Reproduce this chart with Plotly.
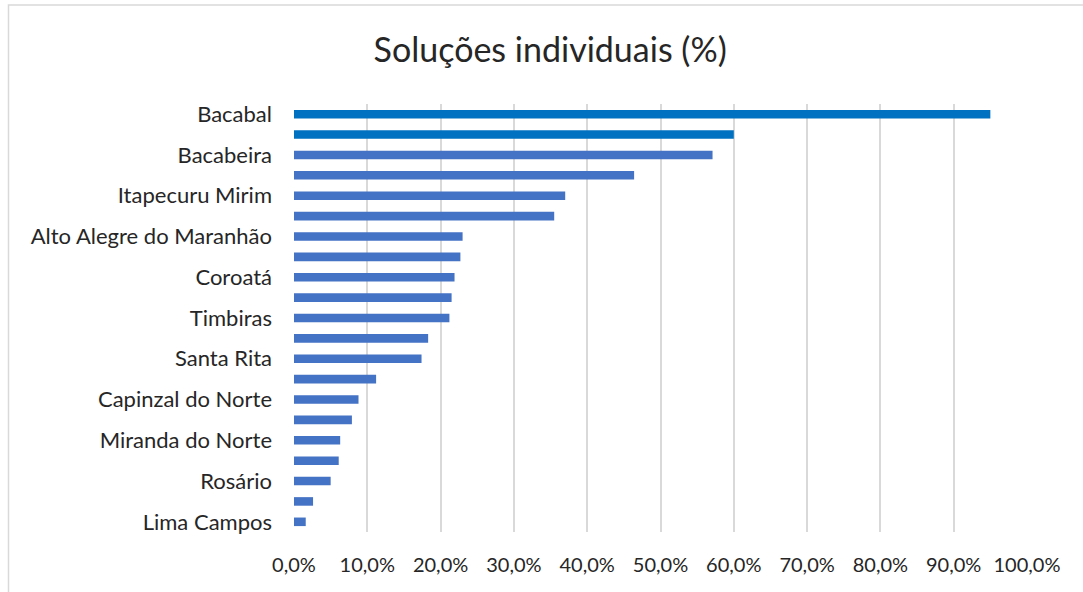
import plotly.graph_objects as go

# Visible category labels (Excel shows every other one)
labels = ["Bacabal", "Bacabeira", "Itapecuru Mirim", "Alto Alegre do Maranhão",
          "Coroatá", "Timbiras", "Santa Rita", "Capinzal do Norte",
          "Miranda do Norte", "Rosário", "Lima Campos"]
# Bar values (share), top to bottom, 21 bars
values = [0.950, 0.600, 0.571, 0.464, 0.370, 0.355, 0.230, 0.227, 0.219, 0.215,
          0.212, 0.183, 0.174, 0.112, 0.088, 0.079, 0.063, 0.061, 0.050, 0.026, 0.016]
highlight = [True, True] + [False] * 19

positions = list(range(len(values)))
label_positions = positions[::2]
colors = ["#0070C0" if h else "#4472C4" for h in highlight]

fig = go.Figure(go.Bar(
    x=values, y=positions, orientation="h",
    marker=dict(color=colors, line=dict(width=0)),
    width=0.42,
))

font_family = "Lato, 'Open Sans', sans-serif"
fig.update_layout(
    width=1083, height=592,
    margin=dict(l=294, r=56, t=104, b=60),
    paper_bgcolor="white", plot_bgcolor="white",
    showlegend=False,
    title=dict(text="Soluções individuais (%)", x=0.508, xanchor="center",
               y=1 - 50 / 592, yanchor="middle", yref="container",
               font=dict(family=font_family, size=34, color="#262626")),
    font=dict(family=font_family, color="#262626"),
    xaxis=dict(range=[0, 1.0], tickvals=[i / 10 for i in range(11)],
               tickformat=".1%",
               showgrid=True, gridcolor="#D9D9D9", gridwidth=2,
               zeroline=False, showline=False,
               tickfont=dict(size=20, color="#262626"), ticks="",
               ticklabelstandoff=19),
    yaxis=dict(range=[len(values) - 0.5, -0.5], tickvals=label_positions,
               ticktext=labels, showgrid=False, zeroline=False,
               showline=False, ticks="",
               tickfont=dict(size=22, color="#262626"), ticklabelstandoff=21),
    separators=",.",
    shapes=[dict(type="rect", xref="paper", yref="paper",
                 x0=-285.5 / 733, x1=1.2, y0=-0.3, y1=(532 - 5) / 428,
                 line=dict(color="#D9D9D9", width=1.5), layer="below")],
)

fig.write_html("out.html", config={"displayModeBar": False},
               post_script="document.body.style.margin='0';document.body.style.overflow='hidden';")
